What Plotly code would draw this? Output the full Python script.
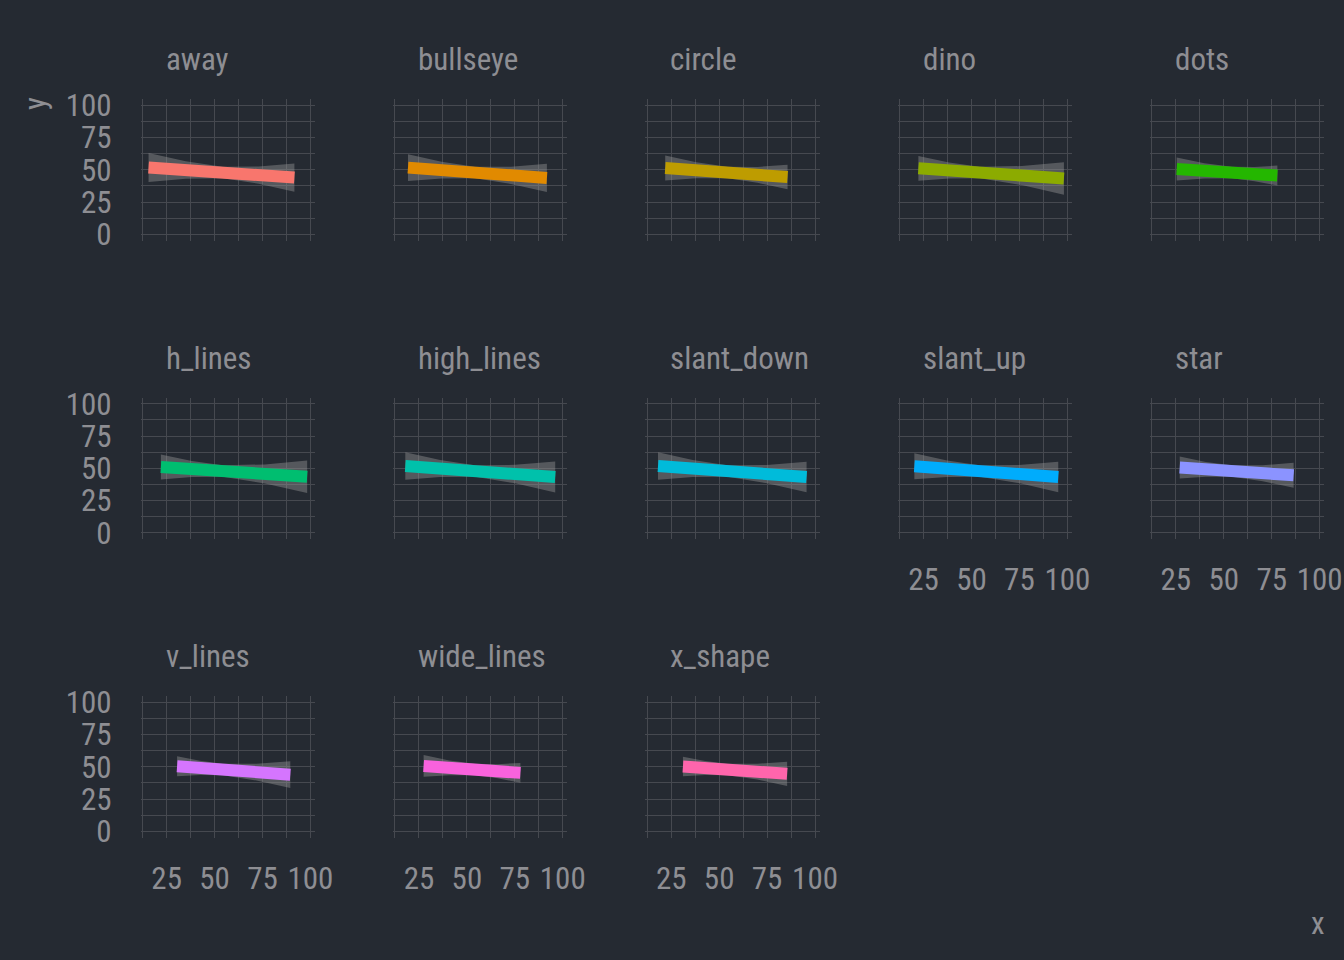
import plotly.graph_objects as go

# ---------------- data ----------------
datasets = ["away", "bullseye", "circle", "dino", "dots",
            "h_lines", "high_lines", "slant_down", "slant_up", "star",
            "v_lines", "wide_lines", "x_shape"]

colors = ["#F8766D", "#E18A00", "#BE9C00", "#8CAB00", "#24B700",
          "#00BE70", "#00C1AB", "#00BBDA", "#00ACFC", "#8B93FF",
          "#D575FE", "#F962DD", "#FF65AC"]

# x positions along each fitted line
fit_x = [
    [15.56, 34.91, 54.26, 72.95, 91.64],
    [19.29, 36.78, 54.26, 73.00, 91.74],
    [21.86, 38.06, 54.26, 69.96, 85.66],
    [22.31, 38.29, 54.26, 76.24, 98.21],
    [25.44, 39.85, 54.26, 66.11, 77.95],
    [22.00, 38.13, 54.26, 76.28, 98.29],
    [17.89, 36.08, 54.26, 75.17, 96.08],
    [18.11, 36.19, 54.26, 74.93, 95.59],
    [20.21, 37.24, 54.26, 74.76, 95.26],
    [27.02, 40.64, 54.26, 70.35, 86.44],
    [30.45, 42.36, 54.26, 71.88, 89.50],
    [27.44, 40.85, 54.26, 66.09, 77.92],
    [31.11, 42.69, 54.26, 69.86, 85.45],
]

# fitted y values
fit_y = [
    [51.82, 49.82, 47.83, 45.90, 43.98],
    [51.68, 49.76, 47.83, 45.76, 43.70],
    [51.38, 49.61, 47.83, 46.11, 44.39],
    [51.14, 49.49, 47.83, 45.55, 43.28],
    [50.62, 49.23, 47.83, 46.68, 45.53],
    [51.03, 49.43, 47.83, 45.65, 43.47],
    [51.83, 49.83, 47.83, 45.53, 43.23],
    [51.84, 49.83, 47.83, 45.54, 43.25],
    [51.58, 49.71, 47.83, 45.57, 43.31],
    [50.59, 49.21, 47.83, 46.20, 44.57],
    [50.48, 49.16, 47.83, 45.87, 43.90],
    [50.70, 49.26, 47.83, 46.56, 45.30],
    [50.27, 49.05, 47.83, 46.19, 44.54],
]

# half-width of the confidence band
ci_half = [
    [11.25, 6.83, 4.46, 6.69, 10.93],
    [10.35, 6.46, 4.46, 6.70, 10.96],
    [9.73, 6.21, 4.46, 6.12, 9.50],
    [9.63, 6.17, 4.46, 7.37, 12.55],
    [8.89, 5.89, 4.46, 5.47, 7.74],
    [9.70, 6.20, 4.46, 7.38, 12.57],
    [10.69, 6.59, 4.46, 7.15, 12.02],
    [10.63, 6.57, 4.46, 7.10, 11.90],
    [10.13, 6.37, 4.46, 7.06, 11.82],
    [8.53, 5.75, 4.46, 6.19, 9.68],
    [7.76, 5.48, 4.46, 6.48, 10.41],
    [8.44, 5.72, 4.46, 5.46, 7.73],
    [7.62, 5.43, 4.46, 6.10, 9.45],
]

x_ticks = [25, 50, 75, 100]
x_minor = [12.5, 37.5, 62.5, 87.5]
y_ticks = [0, 25, 50, 75, 100]
y_minor = [12.5, 37.5, 62.5, 87.5]

# ---------------- styling / layout ----------------
W, H = 1344, 960
BG = "#252A32"
GRID = "#464950"
TEXT = "#8E8E93"
RIBBON = "rgba(153,153,153,0.42)"
FONT = "Roboto Condensed, Roboto, sans-serif"

NCOL = 5
PANEL_W = 174.5
PANEL_H = 141.4
LEFT0 = 140.6
COL_STEP = 252.3
TOP0 = 99.3
ROW_STEP = 298.5
XR = [11.42, 102.43]
YR = [-4.97, 104.67]

fig = go.Figure()
annotations = []

for i, name in enumerate(datasets):
    r, c = divmod(i, NCOL)
    ax = "" if i == 0 else str(i + 1)
    left = LEFT0 + c * COL_STEP
    top = TOP0 + r * ROW_STEP
    x0, x1 = left / W, (left + PANEL_W) / W
    y1, y0 = 1 - top / H, 1 - (top + PANEL_H) / H

    xs = fit_x[i]
    upper = [f + h for f, h in zip(fit_y[i], ci_half[i])]
    lower = [f - h for f, h in zip(fit_y[i], ci_half[i])]

    fig.add_trace(go.Scatter(
        x=xs + xs[::-1], y=upper + lower[::-1],
        fill="toself", fillcolor=RIBBON, mode="lines",
        line=dict(width=0), hoverinfo="skip", showlegend=False,
        xaxis="x" + ax, yaxis="y" + ax))
    fig.add_trace(go.Scatter(
        x=xs, y=fit_y[i], mode="lines",
        line=dict(color=colors[i], width=12),
        showlegend=False, xaxis="x" + ax, yaxis="y" + ax))

    show_x = (r == 2) or (r == 1 and c >= 3)
    show_y = (c == 0)

    fig.update_layout(**{
        "xaxis" + ax: dict(
            domain=[x0, x1], range=XR, anchor="y" + ax, automargin=False,
            tickvals=x_ticks, showticklabels=show_x,
            showgrid=True, gridcolor=GRID, gridwidth=1,
            minor=dict(tickvals=x_minor, showgrid=True, gridcolor=GRID, gridwidth=1),
            zeroline=False, showline=False, ticks="",
            ticklabelstandoff=19,
            tickfont=dict(family=FONT, size=31, color=TEXT)),
        "yaxis" + ax: dict(
            domain=[y0, y1], range=YR, anchor="x" + ax, automargin=False,
            tickvals=y_ticks, showticklabels=show_y,
            showgrid=True, gridcolor=GRID, gridwidth=1,
            minor=dict(tickvals=y_minor, showgrid=True, gridcolor=GRID, gridwidth=1),
            zeroline=False, showline=False, ticks="",
            ticklabelstandoff=28,
            tickfont=dict(family=FONT, size=31, color=TEXT)),
    })

    annotations.append(dict(
        text=name, xref="paper", yref="paper",
        x=(left + 23) / W, y=1 - (top - 39.5) / H,
        xanchor="left", yanchor="middle", showarrow=False,
        font=dict(family=FONT, size=31, color=TEXT)))

annotations.append(dict(
    text="y", xref="paper", yref="paper", x=35 / W, y=1 - 104 / H,
    xanchor="center", yanchor="middle", textangle=-90, showarrow=False,
    font=dict(family=FONT, size=31, color=TEXT)))
annotations.append(dict(
    text="x", xref="paper", yref="paper", x=1318 / W, y=1 - 923 / H,
    xanchor="center", yanchor="middle", showarrow=False,
    font=dict(family=FONT, size=31, color=TEXT)))

fig.update_layout(
    width=W, height=H, margin=dict(l=0, r=0, t=0, b=0, autoexpand=False),
    paper_bgcolor=BG, plot_bgcolor=BG,
    annotations=annotations, showlegend=False)

fig.write_html("out.html")
